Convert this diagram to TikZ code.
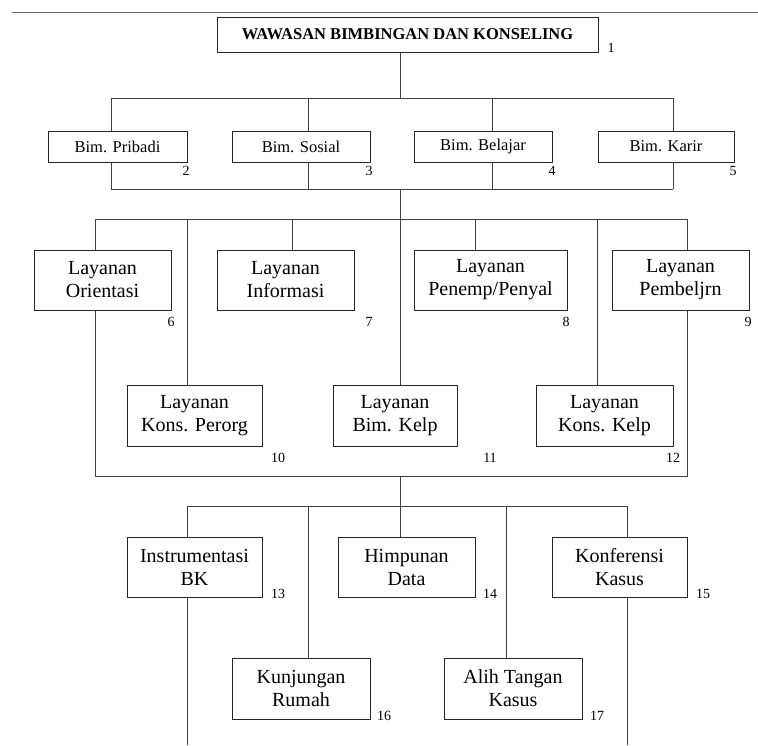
\documentclass[tikz,border=0pt]{standalone}
\usepackage{fontspec}
\setmainfont{Liberation Serif}
\begin{document}
\begin{tikzpicture}[x=1pt,y=-1pt]
\tikzset{
  ln/.style={draw=black!75, line width=0.8pt},
  box/.style={draw=black!85, line width=1pt, fill=white, inner sep=0pt, align=center,
              font=\fontsize{20}{23}\selectfont},
  bimbox/.style={box, font=\fontsize{16.5}{19}\selectfont},
  titlebox/.style={box, font=\bfseries\fontsize{16.5}{19}\selectfont},
  num/.style={font=\fontsize{14}{16}\selectfont, inner sep=0pt},
}
\useasboundingbox (0,0) rectangle (758,745);
\fill[white] (0,0) rectangle (758,745);
% top rule
\coordinate (r1) at (12,12.7);
\coordinate (r2) at (758,12.7);
\draw[ln, draw=black!60] (r1) -- (r2);

% boxes
\node[titlebox, minimum width=381pt, minimum height=35pt] (title) at (407.5,34.5) {WAWASAN BIMBINGAN DAN KONSELING};

\node[bimbox, minimum width=139pt, minimum height=31pt] (pri) at (117.5,146.5) {Bim. Pribadi};
\node[bimbox, minimum width=138pt, minimum height=31pt] (sos) at (301,146.5) {Bim. Sosial};
\node[bimbox, minimum width=138pt, minimum height=31pt] (bel) at (483,146.5) {Bim. Belajar};
\node[bimbox, minimum width=136pt, minimum height=31pt] (kar) at (666,146.5) {Bim. Karir};

\node[box, minimum width=137pt, minimum height=60pt] (ori) at (102.5,280) {Layanan\\Orientasi};
\node[box, minimum width=137pt, minimum height=60pt] (inf) at (285.5,280) {Layanan\\Informasi};
\node[box, minimum width=153pt, minimum height=60pt] (pen) at (490.5,280) {Layanan\\Penemp/Penyal};
\node[box, minimum width=137pt, minimum height=60pt] (pem) at (680.5,280) {Layanan\\Pembeljrn};

\node[box, minimum width=135pt, minimum height=61pt] (kp) at (194.5,415.5) {Layanan\\Kons. Perorg};
\node[box, minimum width=124pt, minimum height=61pt] (bk) at (395,415.5) {Layanan\\Bim. Kelp};
\node[box, minimum width=137pt, minimum height=61pt] (kk) at (604.5,415.5) {Layanan\\Kons. Kelp};

\node[box, minimum width=135pt, minimum height=60pt] (ins) at (194.5,567) {Instrumentasi\\BK};
\node[box, minimum width=137pt, minimum height=60pt] (him) at (406.5,567) {Himpunan\\Data};
\node[box, minimum width=135pt, minimum height=60pt] (kon) at (619.5,567) {Konferensi\\Kasus};

\node[box, minimum width=138pt, minimum height=61pt] (kun) at (301,688.5) {Kunjungan\\Rumah};
\node[box, minimum width=138pt, minimum height=61pt] (ali) at (513,688.5) {Alih Tangan\\Kasus};

% numbers
\node[num] (n1) at (611,48) {1};
\node[num] (n2) at (186,171) {2};
\node[num] (n3) at (369,171) {3};
\node[num] (n4) at (552,171) {4};
\node[num] (n5) at (733,171) {5};
\node[num] (n6) at (171,322) {6};
\node[num] (n7) at (369,322) {7};
\node[num] (n8) at (566,322) {8};
\node[num] (n9) at (748,322) {9};
\node[num] (n10) at (278,458) {10};
\node[num] (n11) at (490,458) {11};
\node[num] (n12) at (673,458) {12};
\node[num] (n13) at (278,594) {13};
\node[num] (n14) at (490,594) {14};
\node[num] (n15) at (703,594) {15};
\node[num] (n16) at (384,716) {16};
\node[num] (n17) at (597,716) {17};

% bus coordinates
\coordinate (a0) at (400,98);
\coordinate (a1) at (111,98);
\coordinate (a2) at (308,98);
\coordinate (a3) at (492,98);
\coordinate (a4) at (673,98);

\coordinate (b0) at (400,189);
\coordinate (b1) at (111,189);
\coordinate (b2) at (308,189);
\coordinate (b3) at (492,189);
\coordinate (b4) at (673,189);

\coordinate (c0) at (400,219);
\coordinate (c1) at (95,219);
\coordinate (c2) at (187,219);
\coordinate (c3) at (292,219);
\coordinate (c4) at (475,219);
\coordinate (c5) at (597,219);
\coordinate (c6) at (687,219);

\coordinate (e0) at (400,476);
\coordinate (e1) at (95,476);
\coordinate (e2) at (687,476);

\coordinate (f0) at (400,506);
\coordinate (f1) at (187,506);
\coordinate (f2) at (308,506);
\coordinate (f3) at (506,506);
\coordinate (f4) at (627,506);

\coordinate (g1) at (187,745);
\coordinate (g2) at (627,745);

% connectors level 1
\draw[ln] (title.south -| a0) -- (a0);
\draw[ln] (a1) -- (a4);
\draw[ln] (a1) -- (a1 |- pri.north);
\draw[ln] (a2) -- (a2 |- sos.north);
\draw[ln] (a3) -- (a3 |- bel.north);
\draw[ln] (a4) -- (a4 |- kar.north);

% level 2
\draw[ln] (pri.south -| b1) -- (b1);
\draw[ln] (sos.south -| b2) -- (b2);
\draw[ln] (bel.south -| b3) -- (b3);
\draw[ln] (kar.south -| b4) -- (b4);
\draw[ln] (b1) -- (b4);
\draw[ln] (b0) -- (c0);

% level 3
\draw[ln] (c1) -- (c6);
\draw[ln] (c1) -- (c1 |- ori.north);
\draw[ln] (c2) -- (c2 |- kp.north);
\draw[ln] (c3) -- (c3 |- inf.north);
\draw[ln] (c0) -- (c0 |- bk.north);
\draw[ln] (c4) -- (c4 |- pen.north);
\draw[ln] (c5) -- (c5 |- kk.north);
\draw[ln] (c6) -- (c6 |- pem.north);

% level 4
\draw[ln] (ori.south -| e1) -- (e1) -- (e2) -- (pem.south -| e2);
\draw[ln] (e0) -- (f0);
\draw[ln] (f1) -- (f4);
\draw[ln] (f1) -- (f1 |- ins.north);
\draw[ln] (f2) -- (f2 |- kun.north);
\draw[ln] (f0) -- (f0 |- him.north);
\draw[ln] (f3) -- (f3 |- ali.north);
\draw[ln] (f4) -- (f4 |- kon.north);

% bottom tails
\draw[ln] (ins.south -| g1) -- (g1);
\draw[ln] (kon.south -| g2) -- (g2);
\end{tikzpicture}
\end{document}
